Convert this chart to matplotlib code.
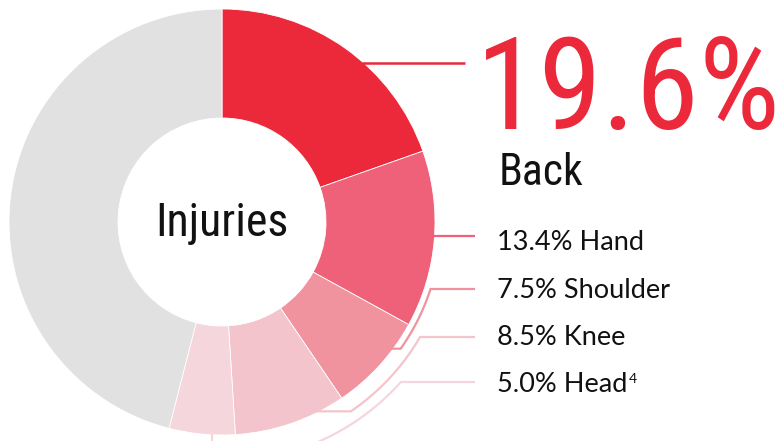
import numpy as np
import matplotlib
matplotlib.use("Agg")
import matplotlib.pyplot as plt
from matplotlib import font_manager

# datos del grafico
partes = ["Back", "Hand", "Shoulder", "Knee", "Head"]
porcentajes = [19.6, 13.4, 7.5, 8.5, 5.0]
resto = 100 - sum(porcentajes)
colores = ["#EC283B", "#EE6179", "#F0939F", "#F3C4CC", "#F4D6DC"]
color_resto = "#E0E1E0"
titulo_centro = "Injuries"
nota_head = "4"

W, H = 784, 441
lista = font_manager.fontManager.ttflist
nombres = {f.name for f in lista}

def elegir(opciones):
    for o in opciones:
        if o in nombres:
            return o
    return "DejaVu Sans"

def tiene_regular(nombre):
    return any(f.name == nombre and f.style == "normal" and 400 <= int(f.weight) <= 500
               for f in lista if str(f.weight).isdigit())

fuente_estrecha = elegir(["Roboto Condensed", "Archivo Narrow", "Liberation Sans Narrow", "Barlow Condensed"])
fuente_label = "Montserrat" if tiene_regular("Montserrat") else elegir(["Lato", "Noto Sans"])

fig = plt.figure(figsize=(W / 100, H / 100), dpi=100)
ax = fig.add_axes([0, 0, 1, 1])

cx, cy = 222, H - 222
R, r_in = 213, 104

ax.pie(porcentajes + [resto], colors=colores + [color_resto], radius=R, center=(cx, cy),
       startangle=90, counterclock=False,
       wedgeprops=dict(width=R - r_in, edgecolor="white", linewidth=0.6))
ax.set_xlim(0, W)
ax.set_ylim(0, H)
ax.set_aspect("equal")
ax.axis("off")

def iy(y):
    return H - y

ax.text(cx, iy(236), titulo_centro, ha="center", va="baseline", fontsize=33,
        family=fuente_estrecha, color="#111111")

# etiqueta grande, ajustada al ancho disponible
grande = ax.text(476, iy(129), f"{porcentajes[0]:.1f}%", ha="left", va="baseline", fontsize=100,
                 family=fuente_estrecha, color=colores[0])
fig.canvas.draw()
ancho = grande.get_window_extent().width
grande.set_fontsize(100 * 305 / ancho)

ax.text(499, iy(185), partes[0], ha="left", va="baseline", fontsize=31.5,
        family=fuente_estrecha, color="#111111")

# linea de Back
y0 = iy(63)
x_borde = cx + np.sqrt(R**2 - (y0 - cy) ** 2)
ax.plot([x_borde - 2, 465], [y0, y0], color=colores[0], lw=1.8, solid_capstyle="butt")

# etiquetas pequenas
base_y = [250, 298, 345, 392]
for i in range(1, 5):
    txt = f"{porcentajes[i]:.1f}% {partes[i]}"
    t = ax.text(497, iy(base_y[i - 1]), txt, ha="left", va="baseline",
                fontsize=19.5, family=fuente_label, fontweight="normal", color="#111111")
    if i == 4:
        fig.canvas.draw()
        bb = t.get_window_extent()
        ax.text(bb.x1 + 1, iy(base_y[i - 1]) + 9, nota_head, fontsize=10, family=fuente_label,
                fontweight="normal", color="#111111", ha="left", va="baseline")

# lineas guia
x_txt = 475
linea_y = [236, 289, 337, 382]
radios_arco = [None, 219, 229, 240]
ang_destino = [None, 126.9, 153.8, 182.7]   # grados, horario desde arriba
tipo_tick = [None, "h", "h", "v"]

for i in range(4):
    col = colores[i + 1]
    ly = iy(linea_y[i])
    if radios_arco[i] is None:
        xb = cx + np.sqrt(R**2 - (ly - cy) ** 2)
        ax.plot([xb - 2, x_txt], [ly, ly], color=col, lw=1.6, solid_capstyle="butt")
        continue
    ra = radios_arco[i]
    th = np.radians(ang_destino[i])
    px, py = cx + (R - 2) * np.sin(th), cy + (R - 2) * np.cos(th)
    a0 = np.arctan2(ly - cy, np.sqrt(ra**2 - (ly - cy) ** 2))
    if tipo_tick[i] == "h":
        a1 = np.arctan2(py - cy, np.sqrt(ra**2 - (py - cy) ** 2))
    else:
        a1 = np.arctan2(-np.sqrt(ra**2 - (px - cx) ** 2), px - cx)
        if a1 > a0:
            a1 -= 2 * np.pi
    angs = np.linspace(a0, a1, 120)
    xs = [x_txt] + list(cx + ra * np.cos(angs)) + [px]
    ys = [ly] + list(cy + ra * np.sin(angs)) + [py]
    ax.plot(xs, ys, color=col, lw=1.6, solid_capstyle="butt", solid_joinstyle="miter")

fig.savefig("out.png", dpi=100)
